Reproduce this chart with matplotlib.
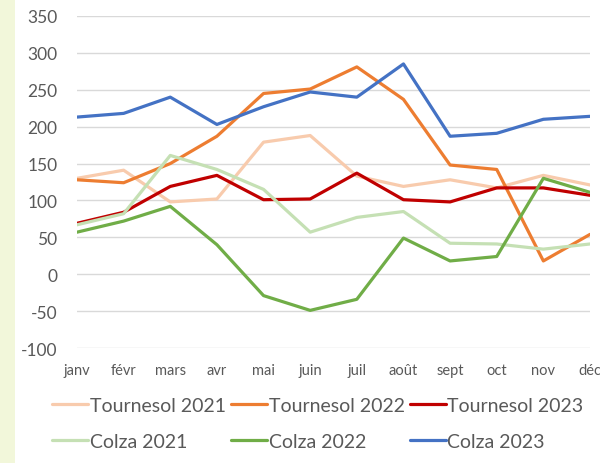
import matplotlib
matplotlib.use("Agg")
import matplotlib.pyplot as plt
from matplotlib.patches import Rectangle

plt.rcParams['font.family'] = ['Lato', 'DejaVu Sans']
plt.rcParams['axes.unicode_minus'] = False

mois = ["janv", "févr", "mars", "avr", "mai", "juin", "juil", "août", "sept", "oct", "nov", "déc"]

tournesol_2021 = [130, 141, 98, 102, 179, 188, 133, 119, 128, 117, 134, 121]
tournesol_2022 = [128, 124, 150, 187, 245, 251, 281, 237, 148, 142, 18, 54]
tournesol_2023 = [69, 84, 119, 134, 101, 102, 137, 101, 98, 117, 117, 107]
colza_2021 = [67, 82, 161, 142, 115, 57, 77, 85, 42, 41, 34, 41]
colza_2022 = [57, 72, 92, 40, -29, -49, -34, 49, 18, 24, 130, 111]
colza_2023 = [213, 218, 240, 203, 227, 247, 240, 285, 187, 191, 210, 214]

series = [
    ("Tournesol 2021", tournesol_2021, "#F8CBAD"),
    ("Tournesol 2022", tournesol_2022, "#ED7D31"),
    ("Tournesol 2023", tournesol_2023, "#C00000"),
    ("Colza 2021", colza_2021, "#C5E0B4"),
    ("Colza 2022", colza_2022, "#70AD47"),
    ("Colza 2023", colza_2023, "#4472C4"),
]

fig = plt.figure(figsize=(6, 4.64), dpi=100)
fig.patches.append(Rectangle((0, 0), 15 / 600, 1, transform=fig.transFigure,
                             facecolor="#F2F7DA", edgecolor="none", zorder=-1))
ax = fig.add_axes([77 / 600, 1 - 349 / 464, 513 / 600, 332 / 464])

x = list(range(len(mois)))
lines = {}
for name, vals, col in series:
    lines[name], = ax.plot(x, vals, color=col, lw=2.3, label=name, solid_capstyle="round")

ax.set_xlim(0, 11)
ax.set_ylim(-100, 350)
ax.set_yticks(range(-100, 351, 50))
ax.set_xticks(x)
ax.set_xticklabels(mois)
ax.grid(axis="y", color="#D9D9D9", lw=1)
ax.set_axisbelow(True)
for s in ax.spines.values():
    s.set_visible(False)
ax.tick_params(axis="y", length=0, pad=14, labelsize=12.5, labelcolor="#595959")
ax.tick_params(axis="x", length=0, pad=11, labelsize=10.5, labelcolor="#595959")
for lab in ax.get_xticklabels():
    lab.set_clip_on(False)

order = ["Tournesol 2021", "Colza 2021", "Tournesol 2022", "Colza 2022", "Tournesol 2023", "Colza 2023"]
fig.legend([lines[n] for n in order], order, ncol=3, loc="center left",
           bbox_to_anchor=(52 / 600, 1 - 424.5 / 464), frameon=False,
           borderaxespad=0, borderpad=0,
           fontsize=14, handlelength=1.85, handletextpad=0.1, columnspacing=0.25,
           labelspacing=0.95, labelcolor="#595959")

fig.savefig("out.png", dpi=100)
